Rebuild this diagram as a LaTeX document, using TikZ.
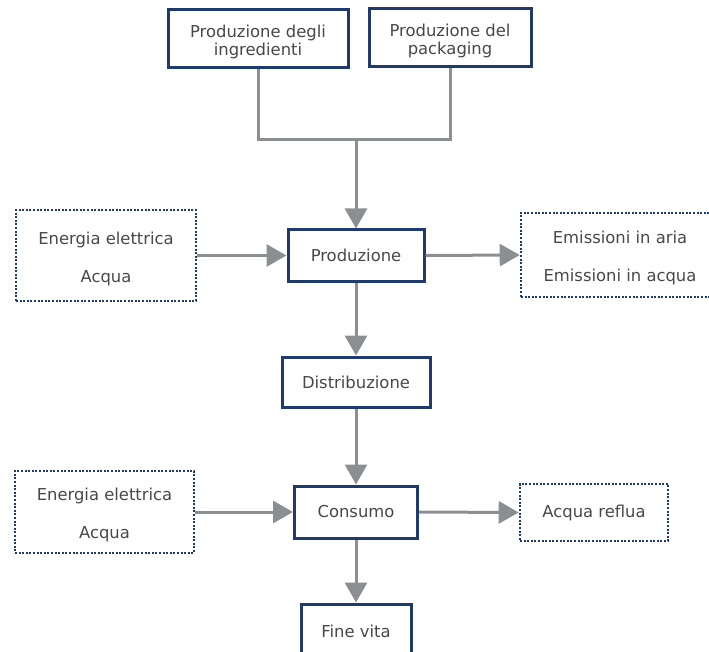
\documentclass[tikz,border=0pt]{standalone}
\usepackage{fontspec}
\setmainfont{DejaVu Sans}
\usetikzlibrary{arrows.meta}
\definecolor{navy}{HTML}{1F3A6E}
\definecolor{arrowgray}{HTML}{8C8F92}
\definecolor{txt}{HTML}{484848}
\newcommand{\lowstrut}{\rule{0pt}{18.5pt}}
\begin{document}
\begin{tikzpicture}[x=1pt,y=-1pt,
  solidbox/.style={draw=navy,line width=3pt,fill=white,inner sep=0pt,align=center,text=txt,
    font=\fontsize{16.4}{18.5}\selectfont},
  dotbox/.style={draw=navy,line width=2.6pt,dash pattern=on 2pt off 1.6pt,inner sep=0pt,align=center,text=txt,
    font=\fontsize{16.4}{38}\selectfont},
  flow/.style={draw=arrowgray,line width=3pt,-{Triangle[length=20pt,width=22pt]}},
  plain/.style={draw=arrowgray,line width=3pt}]
\useasboundingbox (0,0) rectangle (709,652);
\node[solidbox,minimum width=180pt,minimum height=58pt] (ingr) at (258,39) {\lowstrut Produzione degli\\ingredienti};
\node[solidbox,minimum width=162pt,minimum height=58pt] (pack) at (450,38) {\lowstrut Produzione del\\packaging};
\node[solidbox,minimum width=136pt,minimum height=51pt] (prod) at (356,255.5) {Produzione};
\node[dotbox,minimum width=180pt,minimum height=91pt] (in1) at (106,255.5) {\lowstrut Energia elettrica\\Acqua};
\node[dotbox,minimum width=198pt,minimum height=84pt] (out1) at (620,255) {\lowstrut Emissioni in aria\\Emissioni in acqua};
\node[solidbox,minimum width=148pt,minimum height=50pt] (dist) at (356,382) {Distribuzione};
\node[solidbox,minimum width=123pt,minimum height=52pt] (cons) at (356,512) {Consumo};
\node[dotbox,minimum width=179pt,minimum height=82pt] (in2) at (104.5,512) {\lowstrut Energia elettrica\\Acqua};
\node[dotbox,minimum width=148pt,minimum height=57pt] (out2) at (594,512.5) {Acqua reflua};
\node[solidbox,minimum width=110pt,minimum height=54pt] (fine) at (356,631) {Fine vita};
\coordinate (jl) at (258,140);
\coordinate (jr) at (450,140);
\coordinate (jm) at (356,140);
\draw[plain] (ingr.south) -- (jl) -- (jr) -- (pack.south);
\draw[flow] (jm) -- (prod.north);
\draw[flow] (in1.east) -- (prod.west);
\draw[flow] (prod.east) -- (out1.west);
\draw[flow] (prod.south) -- (dist.north);
\draw[flow] (dist.south) -- (cons.north);
\draw[flow] (in2.east) -- (cons.west);
\draw[flow] (cons.east) -- (out2.west);
\draw[flow] (cons.south) -- (fine.north);
\end{tikzpicture}
\end{document}
